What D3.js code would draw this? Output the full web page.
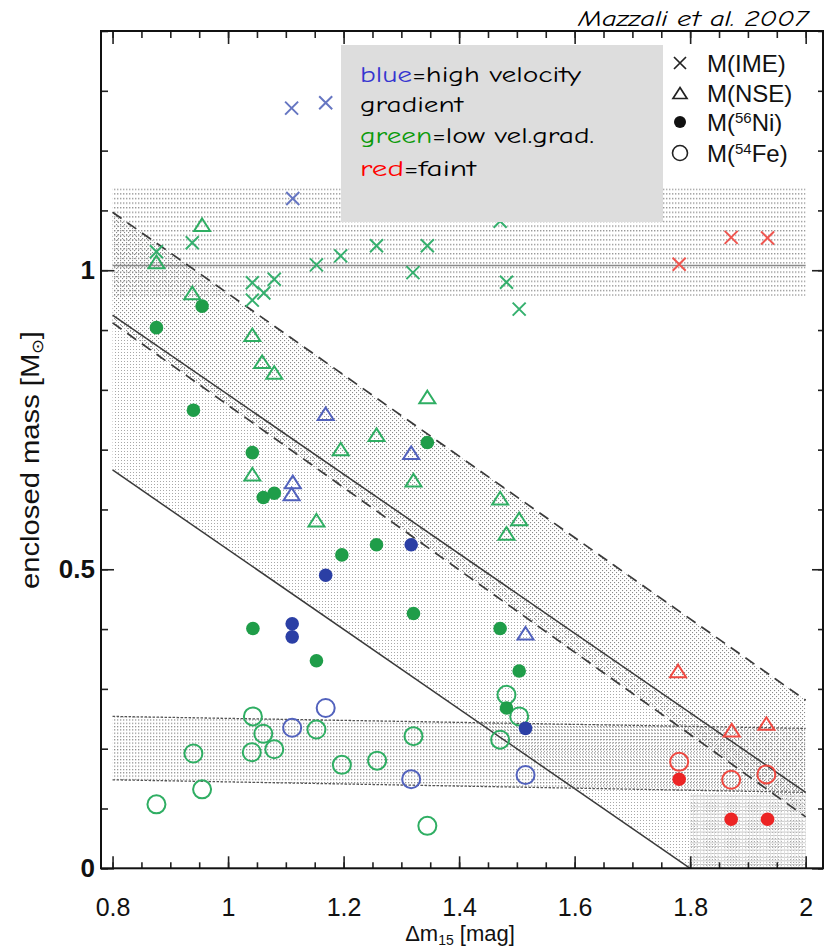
<!DOCTYPE html>
<html>
<head>
<meta charset="utf-8">
<script src="https://cdn.jsdelivr.net/npm/d3@7"></script>
<style>
  body { margin: 0; background: #fff; }
  svg { display: block; }
</style>
</head>
<body>
<script>
// ---- axis ticks ----
const xMajorTicks = [0.8, 1.0, 1.2, 1.4, 1.6, 1.8, 2.0];
const xTickLabels = ["0.8", "1", "1.2", "1.4", "1.6", "1.8", "2"];
const yMajorTicks = [0, 0.5, 1];
const yTickLabels = ["0", "0.5", "1"];

// ---- model bands (dm15, enclosed mass) ----
const imeBand = [0.957, 1.137];           // horizontal band of M(IME)
const imeMean = 1.008;
const nseUpper = [[0.8, 1.097], [2.0, 0.281]];
const nseLower = [[0.8, 0.912], [2.0, 0.086]];
const niUpper = [[0.8, 0.925], [2.0, 0.127]];
const niLower = [[0.8, 0.666], [1.8, 0.0]];
const feUpper = [[0.8, 0.254], [2.0, 0.234]];
const feLower = [[0.8, 0.148], [2.0, 0.127]];
const faintBox = [[1.8, 0.0], [2.0, 0.124]];

// ---- measurements: [dm15, mass, group]  b = high vel. gradient, g = low, r = faint ----
const massIME = [
  [1.110, 1.271, "b"], [1.169, 1.280, "b"], [1.112, 1.120, "b"],
  [0.876, 1.031, "g"], [0.938, 1.046, "g"], [1.042, 0.979, "g"], [1.062, 0.962, "g"],
  [1.080, 0.985, "g"], [1.042, 0.950, "g"], [1.153, 1.009, "g"], [1.195, 1.024, "g"],
  [1.257, 1.041, "g"], [1.320, 0.996, "g"], [1.345, 1.041, "g"], [1.471, 1.082, "g"],
  [1.482, 0.980, "g"], [1.504, 0.935, "g"],
  [1.781, 1.010, "r"], [1.871, 1.055, "r"], [1.934, 1.054, "r"]
];
const massNSE = [
  [0.955, 1.076, "g"], [0.876, 1.014, "g"], [0.938, 0.962, "g"], [1.042, 0.892, "g"],
  [1.059, 0.847, "g"], [1.080, 0.829, "g"], [1.345, 0.788, "g"], [1.257, 0.725, "g"],
  [1.195, 0.701, "g"], [1.321, 0.649, "g"], [1.042, 0.659, "g"], [1.153, 0.582, "g"],
  [1.471, 0.619, "g"], [1.504, 0.584, "g"], [1.482, 0.560, "g"],
  [1.169, 0.760, "b"], [1.317, 0.695, "b"], [1.112, 0.646, "b"], [1.110, 0.626, "b"],
  [1.515, 0.393, "b"],
  [1.779, 0.330, "r"], [1.872, 0.231, "r"], [1.932, 0.242, "r"]
];
const massNi56 = [
  [0.955, 0.940, "g"], [0.876, 0.904, "g"], [0.940, 0.766, "g"], [1.042, 0.695, "g"],
  [1.061, 0.620, "g"], [1.080, 0.627, "g"], [1.345, 0.712, "g"], [1.257, 0.541, "g"],
  [1.197, 0.524, "g"], [1.043, 0.401, "g"], [1.153, 0.347, "g"], [1.321, 0.426, "g"],
  [1.471, 0.401, "g"], [1.504, 0.330, "g"], [1.482, 0.268, "g"],
  [1.317, 0.541, "b"], [1.169, 0.490, "b"], [1.111, 0.409, "b"], [1.111, 0.387, "b"],
  [1.515, 0.234, "b"],
  [1.781, 0.149, "r"], [1.871, 0.082, "r"], [1.934, 0.082, "r"]
];
const massFe54 = [
  [1.043, 0.254, "g"], [1.061, 0.225, "g"], [1.153, 0.232, "g"], [1.080, 0.199, "g"],
  [1.041, 0.194, "g"], [0.940, 0.192, "g"], [1.197, 0.173, "g"], [1.258, 0.180, "g"],
  [1.321, 0.221, "g"], [0.955, 0.132, "g"], [0.876, 0.107, "g"], [1.345, 0.071, "g"],
  [1.482, 0.290, "g"], [1.504, 0.254, "g"], [1.471, 0.215, "g"],
  [1.111, 0.235, "b"], [1.169, 0.268, "b"], [1.317, 0.149, "b"], [1.515, 0.156, "b"],
  [1.781, 0.178, "r"], [1.871, 0.148, "r"], [1.932, 0.157, "r"]
];

const strokeColor = { b: "#5262bd", g: "#2fae63", r: "#f04a42" };
const fillColor = { b: "#2b3fa5", g: "#1f9d49", r: "#ec2424" };
const crossColor = { b: "#6676c2", g: "#35b06e", r: "#ef5650" };

// ---- layout ----
const W = 825, H = 947;
const x = d3.scaleLinear().domain([0.78, 2.03]).range([101, 823]);
const y = d3.scaleLinear().domain([0, 1.4]).range([868.3, 31]);
const axisFont = "'Liberation Sans', Arial, sans-serif";
const handFont = "'Comic Sans MS', 'Comic Neue', 'DejaVu Sans', sans-serif";

const svg = d3.select("body").append("svg").attr("width", W).attr("height", H);
const defs = svg.append("defs");

function pattern(id, w, h, build) {
  const p = defs.append("pattern").attr("id", id)
    .attr("patternUnits", "userSpaceOnUse").attr("width", w).attr("height", h);
  build(p);
}
pattern("pIME", 3, 4.6, p => {
  p.append("rect").attr("x", 0).attr("y", 0).attr("width", 1.4).attr("height", 1.4).attr("fill", "#979797");
});
pattern("pNSE", 4, 4, p => {
  p.append("rect").attr("x", 0).attr("y", 0).attr("width", 1.1).attr("height", 1.1).attr("fill", "#8a8a8a");
  p.append("rect").attr("x", 2).attr("y", 2).attr("width", 1.1).attr("height", 1.1).attr("fill", "#8a8a8a");
});
pattern("pNi", 3, 3, p => {
  p.append("rect").attr("x", 1).attr("y", 1).attr("width", 1).attr("height", 1).attr("fill", "#a8a8a8");
});
pattern("pFe", 3, 3.3, p => {
  p.append("rect").attr("x", 0).attr("y", 0).attr("width", 1.3).attr("height", 1.2).attr("fill", "#8c8c8c");
});
pattern("pFaint", 3.5, 3.6, p => {
  p.append("rect").attr("x", 0).attr("y", 0).attr("width", 3.5).attr("height", 0.9).attr("fill", "#c2c2c2");
  p.append("rect").attr("x", 0).attr("y", 0).attr("width", 0.9).attr("height", 3.6).attr("fill", "#dedede");
});

const plot = svg.append("g");
const pt = d => [x(d[0]), y(d[1])];
const poly = pts => "M" + pts.map(pt).map(p => p.join(",")).join("L") + "Z";

// IME band
plot.append("rect")
  .attr("x", x(0.8)).attr("width", x(2.0) - x(0.8))
  .attr("y", y(imeBand[1])).attr("height", y(imeBand[0]) - y(imeBand[1]))
  .attr("fill", "url(#pIME)");
// NSE band
plot.append("path").attr("d", poly([nseUpper[0], nseUpper[1], nseLower[1], nseLower[0]]))
  .attr("fill", "url(#pNSE)");
// 56Ni band
plot.append("path").attr("d", poly([niUpper[0], niUpper[1], [2.0, 0], niLower[1], niLower[0]]))
  .attr("fill", "url(#pNi)");
// 54Fe band
plot.append("path").attr("d", poly([feUpper[0], feUpper[1], feLower[1], feLower[0]]))
  .attr("fill", "url(#pFe)");
// faint-object box
plot.append("rect")
  .attr("x", x(faintBox[0][0])).attr("width", x(faintBox[1][0]) - x(faintBox[0][0]))
  .attr("y", y(faintBox[1][1])).attr("height", y(faintBox[0][1]) - y(faintBox[1][1]))
  .attr("fill", "url(#pFaint)");

const line = d3.line().x(d => x(d[0])).y(d => y(d[1]));
plot.append("path").attr("d", line([[0.8, imeMean], [2.0, imeMean]]))
  .attr("stroke", "#8a8a8a").attr("stroke-width", 1.6).attr("fill", "none");
[nseUpper, nseLower].forEach(l => plot.append("path").attr("d", line(l))
  .attr("stroke", "#3a3a3a").attr("stroke-width", 1.7).attr("stroke-dasharray", "11,7").attr("fill", "none"));
[niUpper, niLower].forEach(l => plot.append("path").attr("d", line(l))
  .attr("stroke", "#3a3a3a").attr("stroke-width", 1.5).attr("fill", "none"));
[feUpper, feLower].forEach(l => plot.append("path").attr("d", line(l))
  .attr("stroke", "#555").attr("stroke-width", 1.3).attr("stroke-dasharray", "2.5,1.5").attr("fill", "none"));

// ---- markers ----
const crossPath = s => `M${-s},${-s}L${s},${s}M${-s},${s}L${s},${-s}`;
const triPath = (hw, hh) => `M0,${-hh}L${hw},${hh}L${-hw},${hh}Z`;

const marks = svg.append("g");
marks.selectAll(".fe").data(massFe54).join("circle")
  .attr("cx", d => x(d[0])).attr("cy", d => y(d[1])).attr("r", 9)
  .attr("fill", "none").attr("stroke", d => strokeColor[d[2]]).attr("stroke-width", 2);
marks.selectAll(".ni").data(massNi56).join("circle")
  .attr("cx", d => x(d[0])).attr("cy", d => y(d[1])).attr("r", 6.8)
  .attr("fill", d => fillColor[d[2]]);
marks.selectAll(".nse").data(massNSE).join("path")
  .attr("transform", d => `translate(${x(d[0])},${y(d[1])})`)
  .attr("d", triPath(8, 6.3))
  .attr("fill", "none").attr("stroke", d => strokeColor[d[2]]).attr("stroke-width", 2);
marks.selectAll(".ime").data(massIME).join("path")
  .attr("transform", d => `translate(${x(d[0])},${y(d[1])})`)
  .attr("d", crossPath(6.5))
  .attr("fill", "none").attr("stroke", d => crossColor[d[2]]).attr("stroke-width", 2);

// ---- axes ----
const axes = svg.append("g").attr("font-family", axisFont);
const xMinor = d3.range(0.8, 2.0001, 0.05);
const yMinor = d3.range(0, 1.4001, 0.1);

axes.append("g").attr("transform", `translate(0,${y(0)})`)
  .call(d3.axisBottom(x).tickValues(xMinor).tickSize(-6).tickFormat(""));
axes.append("g").attr("transform", `translate(0,${y(0)})`)
  .call(d3.axisBottom(x).tickValues(xMajorTicks).tickSize(-12).tickPadding(30)
    .tickFormat((d, i) => xTickLabels[i]))
  .selectAll("text").attr("font-size", 25).attr("fill", "#111");
axes.append("g").attr("transform", `translate(0,${y(1.4)})`)
  .call(d3.axisTop(x).tickValues(xMinor).tickSize(-7).tickFormat(""));
axes.append("g").attr("transform", `translate(0,${y(1.4)})`)
  .call(d3.axisTop(x).tickValues(xMajorTicks).tickSize(-13).tickFormat(""));

axes.append("g").attr("transform", `translate(${x(0.78)},0)`)
  .call(d3.axisLeft(y).tickValues(yMinor).tickSize(-7).tickFormat(""));
axes.append("g").attr("transform", `translate(${x(0.78)},0)`)
  .call(d3.axisLeft(y).tickValues(yMajorTicks).tickSize(-13).tickPadding(6)
    .tickFormat((d, i) => yTickLabels[i]))
  .selectAll("text").attr("font-size", 26).attr("font-weight", "bold").attr("fill", "#111");
axes.append("g").attr("transform", `translate(${x(2.03)},0)`)
  .call(d3.axisRight(y).tickValues(yMinor).tickSize(-5).tickFormat(""));
axes.append("g").attr("transform", `translate(${x(2.03)},0)`)
  .call(d3.axisRight(y).tickValues(yMajorTicks).tickSize(-11).tickFormat(""));

axes.selectAll(".domain").remove();
axes.selectAll(".tick line").attr("stroke", "#222").attr("stroke-width", 1.6);

svg.append("rect")
  .attr("x", x(0.78)).attr("y", y(1.4))
  .attr("width", x(2.03) - x(0.78)).attr("height", y(0) - y(1.4))
  .attr("fill", "none").attr("stroke", "#111").attr("stroke-width", 2);

// axis titles
const xt = svg.append("text").attr("x", 460).attr("y", 941).attr("text-anchor", "middle")
  .attr("font-family", axisFont).attr("font-size", 22).attr("fill", "#111");
xt.append("tspan").text("\u0394m");
xt.append("tspan").attr("font-size", 14).attr("dy", 4).text("15");
xt.append("tspan").attr("dy", -4).text(" [mag]");

const yt = svg.append("text")
  .attr("transform", "translate(39,460) rotate(-90)")
  .attr("text-anchor", "middle")
  .attr("font-family", axisFont).attr("font-size", 26).attr("fill", "#111")
  .attr("textLength", 258).attr("lengthAdjust", "spacingAndGlyphs");
yt.append("tspan").text("enclosed mass [M");
yt.append("tspan").attr("font-size", 16).attr("dy", 4).text("\u2299");
yt.append("tspan").attr("dy", -4).text("]");

// ---- colour key box ----
const box = svg.append("g");
box.append("rect").attr("x", 341).attr("y", 45).attr("width", 322).attr("height", 177).attr("fill", "#dddddd");
const keyLines = [
  { y: 82, len: 221, parts: [["blue", "#3535d0"], ["=high velocity", "#000"]] },
  { y: 112, len: 103, parts: [["gradient", "#000"]] },
  { y: 143, len: 234, parts: [["green", "#0a9a0a"], ["=low vel.grad.", "#000"]] },
  { y: 176, len: 116, parts: [["red", "#ff0000"], ["=faint", "#000"]] }
];
keyLines.forEach(k => {
  const t = box.append("text").attr("x", 360).attr("y", k.y)
    .attr("font-family", handFont).attr("font-size", 23)
    .attr("textLength", k.len).attr("lengthAdjust", "spacingAndGlyphs");
  k.parts.forEach(p => t.append("tspan").attr("fill", p[1]).text(p[0]));
});

// ---- symbol legend ----
const leg = svg.append("g").attr("font-family", axisFont)
  .attr("font-size", 24).attr("fill", "#111");
leg.append("path").attr("transform", "translate(680,63)").attr("d", crossPath(6))
  .attr("stroke", "#222").attr("stroke-width", 1.7).attr("fill", "none");
leg.append("path").attr("transform", "translate(680,93)").attr("d", triPath(7, 5.5))
  .attr("stroke", "#222").attr("stroke-width", 1.7).attr("fill", "none");
leg.append("circle").attr("cx", 680).attr("cy", 122).attr("r", 6).attr("fill", "#111");
leg.append("circle").attr("cx", 680).attr("cy", 153).attr("r", 7.5)
  .attr("stroke", "#222").attr("stroke-width", 1.6).attr("fill", "none");
leg.append("text").attr("x", 707).attr("y", 72).text("M(IME)");
leg.append("text").attr("x", 707).attr("y", 102).text("M(NSE)");
const tNi = leg.append("text").attr("x", 707).attr("y", 131);
tNi.append("tspan").text("M(");
tNi.append("tspan").attr("font-size", 15).attr("dy", -8).text("56");
tNi.append("tspan").attr("dy", 8).text("Ni)");
const tFe = leg.append("text").attr("x", 707).attr("y", 162);
tFe.append("tspan").text("M(");
tFe.append("tspan").attr("font-size", 15).attr("dy", -8).text("54");
tFe.append("tspan").attr("dy", 8).text("Fe)");

// ---- citation ----
svg.append("text").attr("x", 578).attr("y", 26)
  .attr("font-family", handFont).attr("font-style", "italic").attr("font-size", 22)
  .attr("textLength", 230).attr("lengthAdjust", "spacingAndGlyphs").attr("fill", "#000")
  .text("Mazzali et al. 2007");
</script>
</body>
</html>
